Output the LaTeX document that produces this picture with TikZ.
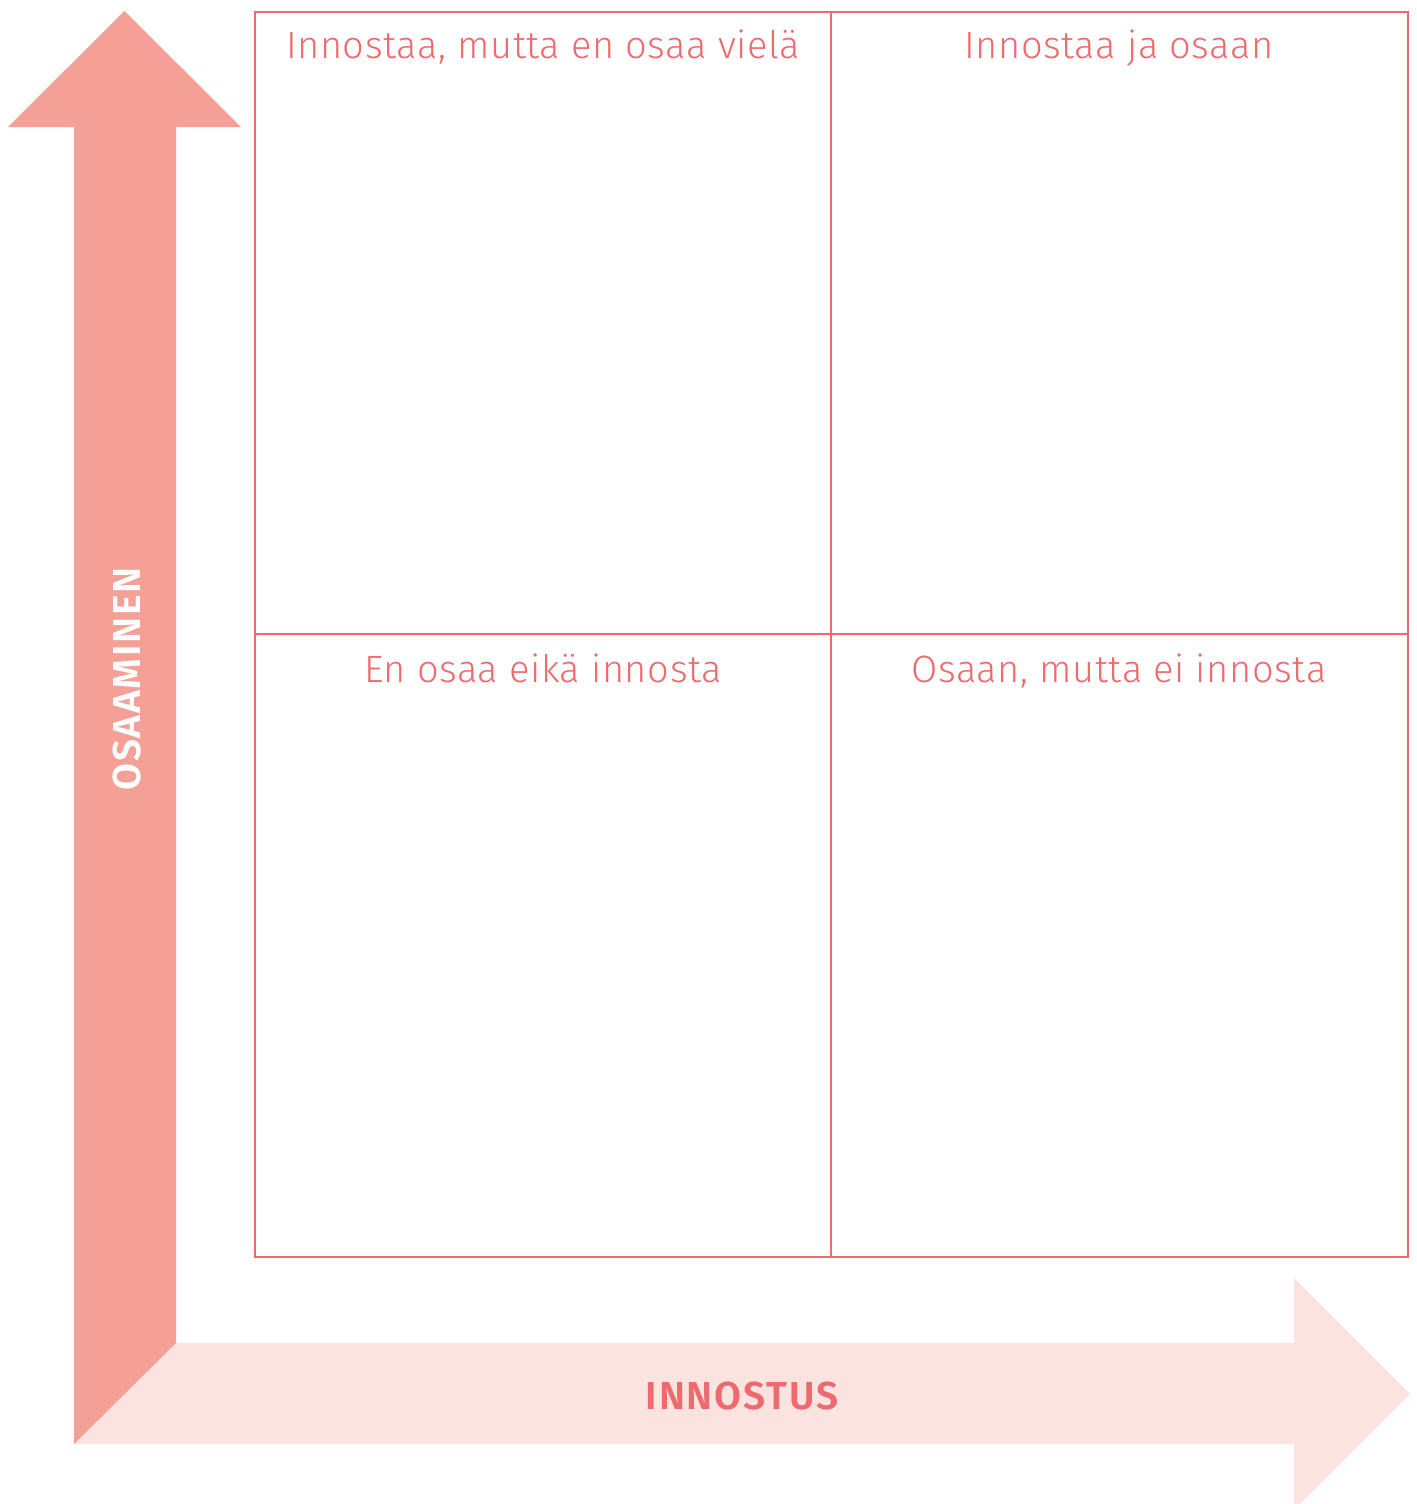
\documentclass[tikz,border=0pt]{standalone}
\usepackage{fontspec}
\setmainfont{Fira Sans Light}[BoldFont={Fira Sans SemiBold}]
\newfontfamily\quadfont{Fira Sans Light}[LetterSpace=1.5]
\newfontfamily\axisfont{Fira Sans SemiBold}[LetterSpace=4.5]
\definecolor{darkpink}{HTML}{F4A097}
\definecolor{lightpink}{HTML}{FBE4DF}
\definecolor{linered}{HTML}{EE6A6E}
\begin{document}
\begin{tikzpicture}[x=1pt,y=-1pt,
  gridline/.style={draw=linered,line width=1.6pt},
  quadlabel/.style={text=linered,font=\quadfont\fontsize{38}{44}\selectfont,anchor=base},
  axislabel/.style={font=\axisfont\fontsize{39}{44}\selectfont,anchor=center}]
\useasboundingbox (0,0) rectangle (1416,1504);
\begin{scope}
\clip (0,0) rectangle (1416,1504);
% horizontal arrow (light)
\fill[lightpink] (74,1444) -- (176,1343) -- (1294,1343) -- (1294,1278) -- (1410,1394) -- (1294,1510) -- (1294,1444) -- cycle;
% vertical arrow (dark)
\fill[darkpink] (74,1444) -- (74,127) -- (8,127) -- (124.5,11) -- (241,127) -- (176,127) -- (176,1343) -- cycle;
\end{scope}
% grid
\draw[gridline] (255,12) rectangle (1408,1257);
\draw[gridline] (831,12) -- (831,1257);
\draw[gridline] (255,634) -- (1408,634);
% labels
\node[quadlabel] (q1) at (543,59) {Innostaa, mutta en osaa vielä};
\node[quadlabel] (q2) at (1119,59) {Innostaa ja osaan};
\node[quadlabel] (q3) at (543,682) {En osaa eikä innosta};
\node[quadlabel] (q4) at (1119,682) {Osaan, mutta ei innosta};
\node[axislabel,text=linered] (ax) at (742,1396) {INNOSTUS};
\node[axislabel,text=white,rotate=90] (ay) at (127.5,679) {OSAAMINEN};
\end{tikzpicture}
\end{document}
